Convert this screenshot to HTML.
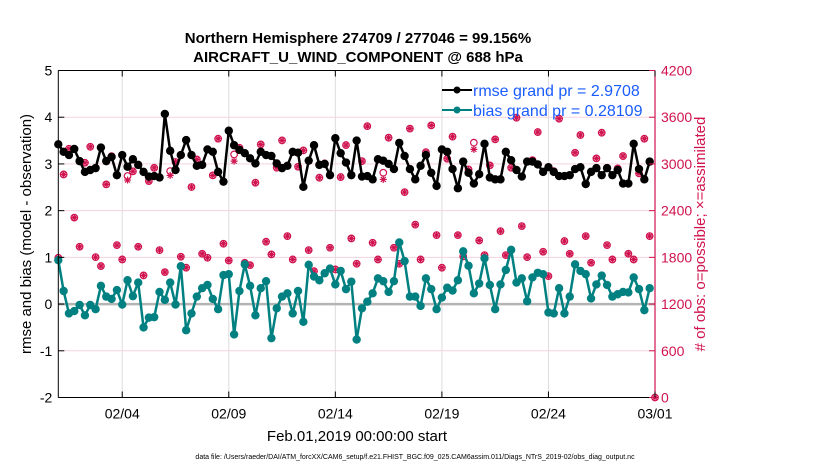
<!DOCTYPE html>
<html><head><meta charset="utf-8"><style>
body{margin:0;background:#fff;}
svg{display:block;font-family:"Liberation Sans",Arial,sans-serif;}
</style></head><body>
<svg id="chart" width="830" height="470" viewBox="0 0 830 470" xmlns="http://www.w3.org/2000/svg">
<text x="358" y="43" text-anchor="middle" font-size="15" font-weight="bold">Northern Hemisphere 274709 / 277046 = 99.156%</text>
<text x="358" y="62" text-anchor="middle" font-size="15" font-weight="bold">AIRCRAFT_U_WIND_COMPONENT @ 688 hPa</text>
<g id="grid"></g>
<g id="marks"></g>
<g id="axes"></g>
<text transform="translate(31,234) rotate(-90)" text-anchor="middle" font-size="15">rmse and bias (model - observation)</text>
<text transform="translate(705,234) rotate(-90)" text-anchor="middle" font-size="15" fill="#d0134f">#  of obs: o=possible; ×=assimilated</text>
<text x="357" y="441" text-anchor="middle" font-size="15">Feb.01,2019 00:00:00 start</text>
<text x="415" y="459" text-anchor="middle" font-size="7">data file: /Users/raeder/DAI/ATM_forcXX/CAM6_setup/f.e21.FHIST_BGC.f09_025.CAM6assim.011/Diags_NTrS_2019-02/obs_diag_output.nc</text>
<g>
<line x1="442" y1="90" x2="472" y2="90" stroke="#000" stroke-width="2"/>
<circle cx="457" cy="90" r="3.5" fill="#000"/>
<text x="473" y="96" font-size="16" fill="#1a5cff">rmse grand pr = 2.9708</text>
<line x1="442" y1="110" x2="472" y2="110" stroke="#008080" stroke-width="2"/>
<circle cx="457" cy="110" r="3.5" fill="#008080"/>
<text x="473" y="116" font-size="16" fill="#1a5cff">bias grand pr = 0.28109</text>
</g>
</svg>
<script>
const xTickLabels=["02/04","02/09","02/14","02/19","02/24","03/01"];
const xTickDays=[3,8,13,18,23,28];
const leftTicks=[-2,-1,0,1,2,3,4,5];
const rightTicks=[0,600,1200,1800,2400,3000,3600,4200];
const rmse=[3.42,3.26,3.19,3.32,3.06,2.83,2.87,2.91,3.35,3.06,3.15,2.76,3.19,2.94,3.10,2.98,2.83,2.73,2.74,2.71,4.07,3.28,2.87,3.19,3.51,3.19,2.96,2.98,3.31,3.26,2.83,2.62,3.71,3.40,3.30,3.23,3.12,3.01,3.26,3.19,3.17,3.01,2.91,2.96,3.26,3.24,2.51,3.07,3.40,2.98,3.00,2.76,3.55,3.23,3.03,2.76,3.50,2.73,
2.74,2.67,3.10,3.07,3.00,2.89,3.45,3.17,2.89,2.67,2.96,3.19,2.81,2.53,3.31,3.26,2.89,2.48,3.05,2.81,2.58,2.78,3.43,2.71,2.67,2.67,3.26,3.08,2.87,2.73,3.05,3.05,2.99,2.83,2.93,2.83,2.74,2.74,2.76,2.89,2.93,2.57,2.83,2.91,2.76,2.91,2.76,2.87,2.58,2.58,3.43,2.89,2.67,3.05];
const bias=[0.94,0.28,-0.20,-0.15,-0.02,-0.24,-0.02,-0.11,0.39,0.16,0.11,0.30,-0.01,0.51,0.17,0.46,-0.50,-0.29,-0.28,0.26,0.09,0.46,-0.01,0.81,-0.56,-0.20,0.16,0.34,0.41,0.11,-0.11,0.62,0.64,-0.65,0.28,0.85,0.39,-0.24,0.34,0.49,-0.73,-0.09,0.16,0.23,-0.20,0.28,-0.38,0.84,0.59,0.51,0.66,0.76,0.42,0.71,0.32,0.48,-0.76,-0.09,
0.05,0.23,0.55,0.49,0.26,0.49,1.32,0.92,0.16,0.16,-0.04,0.55,0.32,-0.11,0.14,0.35,0.29,0.51,1.13,0.82,0.23,0.44,0.98,0.41,-0.11,0.42,0.73,1.16,0.46,0.55,0.06,0.57,0.67,0.64,-0.18,-0.20,0.34,-0.20,0.16,0.85,0.71,0.64,0.12,0.42,0.61,0.41,0.16,0.21,0.26,0.25,0.57,0.32,-0.13,0.34];
const obsPossible=[1795,2865,3195,2310,1936,3015,3220,1803,1688,2737,3100,1957,1773,2845,2905,1936,1568,2780,2950,1893,1610,2908,3025,1808,1667,2703,3058,1846,1795,2853,3324,1975,1760,3122,3208,1731,1700,2759,3251,2001,1838,2951,3302,2073,1773,2964,3174,1893,1623,2823,3007,1923,1645,2831,3242,2043,1718,3036,3486,1988,1773,2887,3337,1923,1718,2638,3453,2220,1773,3152,3495,2086,1667,3067,3350,2086,1812,2930,3273,2017,1829,2981,3315,2137,1829,2951,3594,2201,1803,3049,3409,1872,1559,2908,3581,2009,1846,3144,3371,2073,1731,3071,3401,1957,1773,2943,3101,1846,1773,2879,3324,2073,0];
const obsAssim=[1795,2865,3195,2310,1936,3015,3220,1803,1688,2737,3100,1957,1773,2793,2905,1936,1568,2780,2950,1893,1610,2853,3025,1808,1667,2703,3058,1846,1795,2853,3324,1975,1760,3036,3208,1731,1700,2759,3251,2001,1838,2951,3302,2073,1773,2964,3174,1893,1623,2823,3007,1923,1645,2831,3242,2043,1718,3036,3486,1988,1773,2801,3337,1923,1718,2638,3453,2220,1773,3152,3495,2086,1667,3067,3350,2086,1812,2930,3187,2017,1829,2981,3315,2137,1829,2951,3594,2201,1803,3049,3409,1872,1559,2908,3581,2009,1846,3144,3371,2073,1731,3071,3401,1957,1773,2943,3101,1846,1773,2879,3324,2073,0];

const NS="http://www.w3.org/2000/svg";
const L=58.3,R=655,T=70.5,B=397.5;
const xs=d=>L+(R-L)*d/28;
const yl=v=>B-(B-T)*(v+2)/7;
const yr=v=>B-(B-T)*v/4200;
function mk(parent,tag,attrs){const e=document.createElementNS(NS,tag);for(const k in attrs)e.setAttribute(k,attrs[k]);parent.appendChild(e);return e;}
const grid=document.getElementById('grid'),marks=document.getElementById('marks'),axes=document.getElementById('axes');
xTickDays.forEach(d=>{const g=mk(grid,'line',{x1:xs(d),x2:xs(d),y1:T,y2:B,stroke:'#dcdcdc','stroke-width':1});

});
rightTicks.forEach(v=>{const g=mk(grid,'line',{x1:L,x2:R,y1:yr(v),y2:yr(v),stroke:'#f5d3de','stroke-width':1});

});
const z=mk(grid,'line',{x1:L,x2:R,y1:yl(0),y2:yl(0),stroke:'#b4b4b4','stroke-width':2.5});


// obs markers
obsPossible.forEach((v,i)=>{const c=mk(marks,'circle',{cx:xs(i*0.25),cy:yr(v),r:3.3,fill:'none',stroke:'#d0134f','stroke-width':1.2});

});
obsAssim.forEach((v,i)=>{const x=xs(i*0.25),y=yr(v);const p=mk(marks,'path',{d:`M${x-3.5},${y}H${x+3.5}M${x},${y-3.5}V${y+3.5}M${x-2.5},${y-2.5}L${x+2.5},${y+2.5}M${x-2.5},${y+2.5}L${x+2.5},${y-2.5}`,stroke:'#d0134f','stroke-width':1.2});

});
// rmse
const rl=mk(marks,'polyline',{points:rmse.map((v,i)=>xs(i*0.25)+','+yl(v)).join(' '),fill:'none',stroke:'#000','stroke-width':2.5});


rmse.forEach((v,i)=>{const c=mk(marks,'circle',{cx:xs(i*0.25),cy:yl(v),r:4.2,fill:'#000'});

});
const bl=mk(marks,'polyline',{points:bias.map((v,i)=>xs(i*0.25)+','+yl(v)).join(' '),fill:'none',stroke:'#008080','stroke-width':2.5});


bias.forEach((v,i)=>{const c=mk(marks,'circle',{cx:xs(i*0.25),cy:yl(v),r:4.2,fill:'#008080'});

});
// axes
mk(axes,'line',{x1:L,x2:L,y1:T,y2:B,stroke:'#000','stroke-width':1});
mk(axes,'line',{x1:L,x2:R,y1:B,y2:B,stroke:'#000','stroke-width':1});
mk(axes,'line',{x1:L,x2:R,y1:T,y2:T,stroke:'#000','stroke-width':1});
mk(axes,'line',{x1:R,x2:R,y1:T,y2:B,stroke:'#d0134f','stroke-width':1.2});
xTickDays.forEach((d,i)=>{mk(axes,'line',{x1:xs(d),x2:xs(d),y1:B,y2:B-6,stroke:'#000'});mk(axes,'line',{x1:xs(d),x2:xs(d),y1:T,y2:T+6,stroke:'#000'});
const t=mk(axes,'text',{x:xs(d),y:B+21,'text-anchor':'middle','font-size':14});t.textContent=xTickLabels[i];

});
leftTicks.forEach(v=>{mk(axes,'line',{x1:L,x2:L+6,y1:yl(v),y2:yl(v),stroke:'#000'});
const t=mk(axes,'text',{x:L-6,y:yl(v)+5,'text-anchor':'end','font-size':14});t.textContent=v;

});
rightTicks.forEach(v=>{mk(axes,'line',{x1:R-6,x2:R,y1:yr(v),y2:yr(v),stroke:'#d0134f'});
const t=mk(axes,'text',{x:R+6,y:yr(v)+5,'font-size':14,fill:'#d0134f'});t.textContent=v;

});
</script>
</body></html>
